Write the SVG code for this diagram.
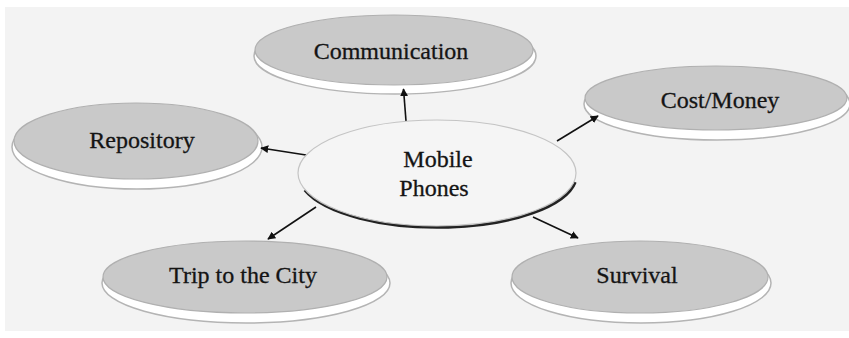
<svg xmlns="http://www.w3.org/2000/svg" width="849" height="338" viewBox="0 0 849 338">
  <defs>
    <marker id="arrow" viewBox="0 0 10 10" refX="9" refY="5" markerWidth="8" markerHeight="8" markerUnits="userSpaceOnUse" orient="auto">
      <path d="M0,0 L10,5 L0,10 z" fill="#111"/>
    </marker>
    <filter id="soft" x="-10%" y="-10%" width="120%" height="130%">
      <feGaussianBlur stdDeviation="0.6"/>
    </filter>
  </defs>
  <style>
    .rim { fill: #ffffff; stroke: #b4b4b4; stroke-width: 1.5; }
    .topic { fill: #c9c9c9; stroke: #b0b0b0; stroke-width: 1.2; }
    .hub { fill: #f5f5f5; stroke: #c4c4c4; stroke-width: 1.2; }
    .hub-shadow { fill: none; stroke: #222; stroke-width: 3.5; }
    .label { font-family: "Liberation Serif", "DejaVu Serif", "Times New Roman", serif; font-size: 24px; fill: #141414; stroke: #141414; stroke-width: 0.3; text-anchor: middle; }
    .link { stroke: #111; stroke-width: 1.6; fill: none; marker-end: url(#arrow); }
  </style>

  <!-- page -->
  <rect x="0" y="0" width="849" height="338" fill="#ffffff"/>
  <rect x="5" y="7" width="844" height="324" fill="#f3f3f3"/>

  <g id="communication">
    <ellipse class="rim" cx="395" cy="56" rx="141" ry="38"/>
    <ellipse class="topic" cx="394" cy="50" rx="139" ry="35"/>
    <text class="label" x="391" y="59">Communication</text>
  </g>

  <g id="repository">
    <ellipse class="rim" cx="137" cy="147" rx="125" ry="42"/>
    <ellipse class="topic" cx="136" cy="141" rx="122" ry="38"/>
    <text class="label" x="142" y="148">Repository</text>
  </g>

  <g id="cost-money">
    <ellipse class="rim" cx="717" cy="104" rx="133" ry="36"/>
    <ellipse class="topic" cx="716" cy="98" rx="131" ry="32"/>
    <text class="label" x="720" y="108">Cost/Money</text>
  </g>

  <g id="trip-to-the-city">
    <ellipse class="rim" cx="246" cy="283" rx="144" ry="40"/>
    <ellipse class="topic" cx="245" cy="277" rx="142" ry="36"/>
    <text class="label" x="243" y="283">Trip  to the City</text>
  </g>

  <g id="survival">
    <ellipse class="rim" cx="641" cy="283" rx="130" ry="40"/>
    <ellipse class="topic" cx="640" cy="277" rx="128" ry="36"/>
    <text class="label" x="637" y="283">Survival</text>
  </g>

  <!-- connectors -->
  <g id="connectors">
    <line class="link" x1="406" y1="121" x2="403.5" y2="89"/>
    <line class="link" x1="306" y1="155" x2="261" y2="148"/>
    <line class="link" x1="557" y1="141" x2="598" y2="116"/>
    <line class="link" x1="316" y1="207" x2="268" y2="239"/>
    <line class="link" x1="533" y1="217" x2="578" y2="238"/>
  </g>

  <g id="mobile-phones">
    <path class="hub-shadow" d="M305,190 A139,53 0 0,0 575,182" filter="url(#soft)"/>
    <ellipse class="hub" cx="437" cy="173" rx="139" ry="53"/>
    <text class="label" x="438" y="167">Mobile</text>
    <text class="label" x="434" y="196">Phones</text>
  </g>
</svg>
